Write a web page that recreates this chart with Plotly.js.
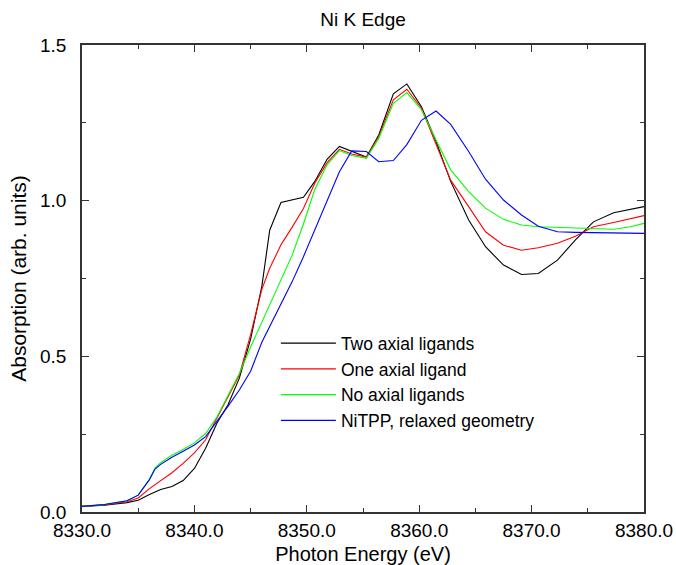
<!DOCTYPE html>
<html>
<head>
<meta charset="utf-8">
<script src="https://cdn.plot.ly/plotly-3.0.1.min.js"></script>
<style>
  html, body { margin: 0; padding: 0; background: #fff; }
  #chart { width: 676px; height: 565px; }
</style>
</head>
<body>
<div id="chart"></div>
<script>
// Photon energy grid (eV)
const energy = [8330, 8332, 8334, 8335, 8336, 8336.5, 8337, 8338, 8339, 8340, 8341, 8342, 8343, 8344, 8345, 8346, 8346.7, 8347.7, 8348.7, 8349.7, 8350.7, 8351.8, 8352.9, 8354.0, 8355.3, 8356.4, 8357.7, 8358.9, 8360.2, 8361.5, 8362.8, 8364.4, 8365.9, 8367.5, 8369.1, 8370.6, 8372.3, 8373.9, 8375.5, 8377.3, 8378.8, 8380];

// Absorption (arb. units)
const twoAxial = [0.018, 0.022, 0.030, 0.038, 0.056, 0.064, 0.072, 0.082, 0.101, 0.140, 0.205, 0.285, 0.345, 0.430, 0.555, 0.725, 0.905, 0.994, 1.002, 1.011, 1.061, 1.133, 1.174, 1.158, 1.140, 1.211, 1.343, 1.375, 1.302, 1.190, 1.062, 0.938, 0.852, 0.793, 0.763, 0.766, 0.809, 0.874, 0.932, 0.961, 0.972, 0.981];
const oneAxial = [0.018, 0.023, 0.033, 0.045, 0.075, 0.088, 0.102, 0.126, 0.156, 0.190, 0.232, 0.300, 0.370, 0.440, 0.570, 0.715, 0.783, 0.858, 0.915, 0.975, 1.055, 1.122, 1.165, 1.150, 1.140, 1.206, 1.324, 1.358, 1.297, 1.180, 1.066, 0.981, 0.900, 0.857, 0.841, 0.849, 0.863, 0.886, 0.916, 0.930, 0.942, 0.952];
const noAxial = [0.018, 0.024, 0.036, 0.054, 0.105, 0.142, 0.158, 0.182, 0.201, 0.222, 0.252, 0.305, 0.375, 0.445, 0.530, 0.610, 0.670, 0.750, 0.825, 0.925, 1.035, 1.115, 1.161, 1.145, 1.136, 1.200, 1.313, 1.347, 1.292, 1.195, 1.099, 1.029, 0.976, 0.940, 0.922, 0.916, 0.914, 0.911, 0.909, 0.908, 0.916, 0.927];
const niTPP = [0.018, 0.024, 0.036, 0.054, 0.104, 0.138, 0.153, 0.176, 0.195, 0.215, 0.242, 0.290, 0.340, 0.392, 0.452, 0.545, 0.595, 0.670, 0.740, 0.820, 0.905, 1.002, 1.093, 1.160, 1.158, 1.125, 1.129, 1.180, 1.258, 1.288, 1.245, 1.158, 1.069, 1.002, 0.954, 0.918, 0.900, 0.898, 0.897, 0.896, 0.895, 0.895];

const seriesNames = ["Two axial ligands", "One axial ligand", "No axial ligands", "NiTPP, relaxed geometry"];
const seriesColors = ["#000000", "#ff0000", "#00ff00", "#0000ff"];
const seriesValues = [twoAxial, oneAxial, noAxial, niTPP];

const xTickVals = [8330, 8340, 8350, 8360, 8370, 8380];
const yTickVals = [0.0, 0.5, 1.0, 1.5];

const FONT = "Liberation Sans, Arial, Helvetica, sans-serif";

const traces = seriesValues.map((vals, i) => ({
  type: "scatter",
  mode: "lines",
  x: energy,
  y: vals,
  name: seriesNames[i],
  line: { color: seriesColors[i], width: 1.1 },
  hoverinfo: "x+y+name"
}));

const axisCommon = {
  showline: true,
  linecolor: "#333333",
  linewidth: 1.5,
  mirror: "ticks",
  ticks: "inside",
  ticklen: 7,
  tickwidth: 1.2,
  tickcolor: "#333333",
  showgrid: false,
  zeroline: false,
  tickformat: ".1f"
};

const layout = {
  width: 676,
  height: 565,
  paper_bgcolor: "#ffffff",
  plot_bgcolor: "#ffffff",
  font: { family: FONT, color: "#000000", size: 19 },
  margin: { l: 82, r: 32, t: 45, b: 53, pad: 0 },
  title: {
    text: "Ni K Edge",
    font: { family: FONT, size: 19, color: "#000000" },
    x: 0.537, xanchor: "center",
    y: 0.966, yanchor: "middle", yref: "container"
  },
  xaxis: Object.assign({}, axisCommon, {
    range: [8330, 8380],
    tickmode: "array",
    tickvals: xTickVals,
    minor: { dtick: 5, tick0: 8330, ticks: "inside", ticklen: 4, tickcolor: "#333333", tickwidth: 1.2 },
    tickfont: { family: FONT, size: 19 },
    title: { text: "Photon Energy (eV)", font: { family: FONT, size: 20 }, standoff: 12 }
  }),
  yaxis: Object.assign({}, axisCommon, {
    range: [0, 1.5],
    tickmode: "array",
    tickvals: yTickVals,
    minor: { dtick: 0.25, tick0: 0, ticks: "inside", ticklen: 4, tickcolor: "#333333", tickwidth: 1.2 },
    tickfont: { family: FONT, size: 19 },
    ticklabelstandoff: 10,
    title: { text: "Absorption (arb. units)", font: { family: FONT, size: 21 }, standoff: 8 }
  }),
  showlegend: true,
  legend: {
    x: 0.345, xanchor: "left",
    y: 0.40, yanchor: "top",
    bgcolor: "rgba(0,0,0,0)",
    borderwidth: 0,
    font: { family: FONT, size: 17.5, color: "#000000" },
    itemwidth: 55,
    tracegroupgap: 0
  }
};

Plotly.newPlot("chart", traces, layout, { displayModeBar: false });
</script>
</body>
</html>
